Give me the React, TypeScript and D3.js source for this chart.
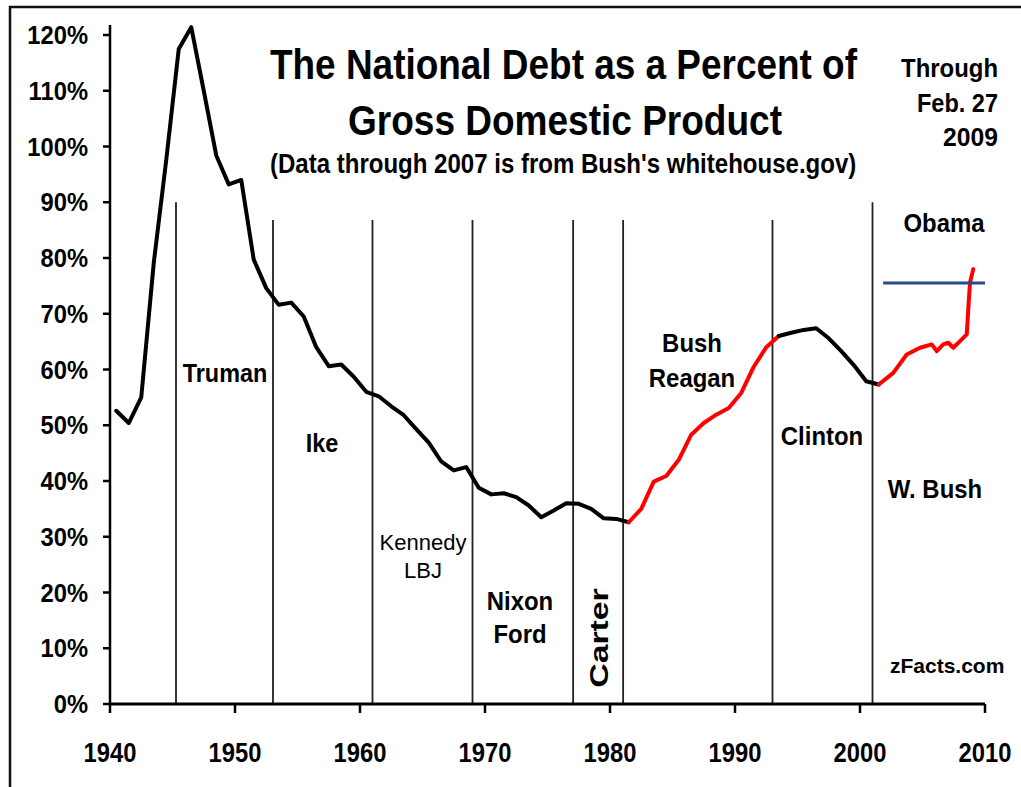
import React from "react";
import * as d3 from "d3";

// ---------- DATA ----------
const years: number[] = [
  1940, 1941, 1942, 1943, 1944, 1945, 1946, 1947, 1948, 1949,
  1950, 1951, 1952, 1953, 1954, 1955, 1956, 1957, 1958, 1959,
  1960, 1961, 1962, 1963, 1964, 1965, 1966, 1967, 1968, 1969,
  1970, 1971, 1972, 1973, 1974, 1975, 1976, 1977, 1978, 1979,
  1980, 1981, 1982, 1983, 1984, 1985, 1986, 1987, 1988, 1989,
  1990, 1991, 1992, 1993, 1994, 1995, 1996, 1997, 1998, 1999,
  2000, 2001,
];
const debtPct: number[] = [
  52.6, 50.4, 55.0, 79.1, 97.6, 117.5, 121.4, 110.0, 98.4, 93.2,
  94.0, 79.7, 74.6, 71.6, 72.0, 69.5, 64.0, 60.6, 60.9, 58.7,
  56.0, 55.2, 53.4, 51.8, 49.3, 46.9, 43.5, 41.9, 42.5, 38.8,
  37.6, 37.8, 37.1, 35.6, 33.5, 34.7, 36.0, 35.9, 35.0, 33.3,
  33.2, 32.6, 35.0, 39.9, 40.9, 43.8, 48.3, 50.4, 51.9, 53.1,
  55.8, 60.5, 64.0, 66.0, 66.6, 67.1, 67.4, 65.6, 63.3, 60.8,
  57.9, 57.3,
];
// finer-grained recent readings (decimal years)
const recentYears: number[] = [
  2002.16, 2003.24, 2004.3, 2005.24, 2005.64, 2006.16, 2006.56, 2006.96,
  2007.5, 2008.04, 2008.16, 2008.3, 2008.56,
];
const recentPct: number[] = [
  59.4, 62.7, 63.9, 64.5, 63.3, 64.5, 64.8, 63.9, 65.1, 66.3, 70.8, 75.6, 78.0,
];
// Republican (red) spans: Reagan/Bush and W. Bush
const redSpans: [number, number][] = [
  [1981, 1993],
  [2001, 2010],
];
// Start of each presidency (vertical dividers)
const presidentStarts: number[] = [1945.28, 1953.04, 1961.0, 1969.0, 1977.05, 1981.05, 1993.0, 2001.0];
const presidentNames: string[][] = [
  ["Truman"], ["Ike"], ["Kennedy", "LBJ"], ["Nixon", "Ford"], ["Carter"],
  ["Bush", "Reagan"], ["Clinton"], ["W. Bush"], ["Obama"],
];
const refLineValue = 75.5;
const refLineYears: [number, number] = [2001.85, 2010];
const yTicks: number[] = [0, 10, 20, 30, 40, 50, 60, 70, 80, 90, 100, 110, 120];
const xTicks: number[] = [1940, 1950, 1960, 1970, 1980, 1990, 2000, 2010];
const titleLines: string[] = ["The National Debt as a Percent of", "Gross Domestic Product"];
const subtitle = "(Data through 2007 is from Bush's whitehouse.gov)";
const asOfLines: string[] = ["Through", "Feb. 27", "2009"];
const sourceNote = "zFacts.com";

// ---------- LAYOUT ----------
const W = 1021;
const H = 787;
const MID = 0.5; // annual values plotted at mid-year
const FONT = "'Liberation Sans', Arial, Helvetica, sans-serif";

const x = d3.scaleLinear().domain([1940, 2010]).range([110, 985]);
const y = d3.scaleLinear().domain([0, 120]).range([704, 35]);

type Pt = [number, number];

function T(props: {
  x: number; y: number; size: number; sx?: number; anchor?: string;
  weight?: string; rot?: number; children: React.ReactNode;
}) {
  const { sx = 1, anchor = "middle", weight = "bold", rot = 0 } = props;
  return (
    <text
      transform={`translate(${props.x},${props.y}) rotate(${rot}) scale(${sx},1)`}
      textAnchor={anchor}
      fontSize={props.size}
      fontWeight={weight}
      fontFamily={FONT}
      fill="#000"
    >
      {props.children}
    </text>
  );
}

export default function App() {
  const annual: Pt[] = years.map((yr, i) => [yr, debtPct[i]]);
  const recent: Pt[] = recentYears.map((yr, i) => [yr, recentPct[i]]);
  const all: Pt[] = [...annual, ...recent];

  const line = d3
    .line<Pt>()
    .x((d) => x(d[0] + MID))
    .y((d) => y(d[1]));

  const isRed = (yr: number) => redSpans.some(([a, b]) => yr >= a && yr < b);
  const segments: { red: boolean; pts: Pt[] }[] = [];
  for (let i = 0; i < all.length - 1; i++) {
    const red = isRed(all[i][0]);
    const last = segments[segments.length - 1];
    if (last && last.red === red) last.pts.push(all[i + 1]);
    else segments.push({ red, pts: [all[i], all[i + 1]] });
  }

  const dividerTop = (i: number) => (i === 0 || i === presidentStarts.length - 1 ? 90 : 86.8);

  const labelPos: { x: number; ys: number[]; size: number; weight: string; sx: number; rot?: number }[] = [
    { x: 225, ys: [382], size: 26, weight: "bold", sx: 0.9 },
    { x: 322, ys: [452], size: 26, weight: "bold", sx: 0.9 },
    { x: 423, ys: [550, 578], size: 22, weight: "normal", sx: 1 },
    { x: 520, ys: [610, 643], size: 26, weight: "bold", sx: 0.92 },
    { x: 608, ys: [638], size: 26, weight: "bold", sx: 1.3, rot: -90 },
    { x: 692, ys: [352, 387], size: 26, weight: "bold", sx: 0.92 },
    { x: 822, ys: [445], size: 26, weight: "bold", sx: 0.92 },
    { x: 935, ys: [498], size: 26, weight: "bold", sx: 0.92 },
    { x: 944, ys: [232], size: 26, weight: "bold", sx: 0.92 },
  ];

  const titlePos = [
    { x: 270, y: 78.5, size: 43, sx: 0.859 },
    { x: 348, y: 135, size: 43, sx: 0.861 },
  ];
  const asOfPos = [
    { y: 77, sx: 0.92 },
    { y: 112, sx: 0.905 },
    { y: 146, sx: 0.95 },
  ];

  return (
    <svg
      width={W}
      height={H}
      style={{ position: "absolute", left: 0, top: 0, background: "#fff" }}
    >
      <rect x={0} y={0} width={W} height={H} fill="#fff" />
      {/* outer frame (left & top visible) */}
      <rect x={10} y={7} width={W + 40} height={H + 40} fill="none" stroke="#111" strokeWidth={2.5} />

      {/* president dividers */}
      {presidentStarts.map((yr, i) => (
        <line
          key={"d" + i}
          x1={x(yr)}
          x2={x(yr)}
          y1={y(dividerTop(i))}
          y2={y(0)}
          stroke="#222"
          strokeWidth={1.8}
        />
      ))}

      {/* axes */}
      <line x1={x(1940)} x2={x(1940)} y1={y(121.8)} y2={y(0)} stroke="#000" strokeWidth={2.5} />
      <line x1={x(1940)} x2={x(2010)} y1={y(0)} y2={y(0)} stroke="#000" strokeWidth={3} />
      {yTicks.map((t) => (
        <g key={"yt" + t}>
          <line x1={x(1940) - 7} x2={x(1940)} y1={y(t)} y2={y(t)} stroke="#000" strokeWidth={2.5} />
          <T x={88} y={y(t) + 9} size={25} sx={0.95} anchor="end">
            {t}%
          </T>
        </g>
      ))}
      {xTicks.map((t) => (
        <g key={"xt" + t}>
          <line x1={x(t)} x2={x(t)} y1={y(0)} y2={y(0) + 9} stroke="#000" strokeWidth={2.5} />
          <T x={x(t)} y={762} size={27} sx={0.88}>
            {t}
          </T>
        </g>
      ))}

      {/* debt line */}
      {segments.map((s, i) => (
        <path
          key={"s" + i}
          d={line(s.pts) || ""}
          fill="none"
          stroke={s.red ? "#ff0000" : "#000"}
          strokeWidth={4}
          strokeLinejoin="round"
          strokeLinecap="round"
        />
      ))}

      {/* reference line */}
      <line
        x1={x(refLineYears[0])}
        x2={x(refLineYears[1])}
        y1={y(refLineValue)}
        y2={y(refLineValue)}
        stroke="#2a4a8c"
        strokeWidth={3}
      />

      {/* president labels */}
      {presidentNames.map((names, i) => {
        const p = labelPos[i];
        return names.map((n, j) => (
          <T key={n} x={p.x} y={p.ys[j]} size={p.size} weight={p.weight} sx={p.sx} rot={p.rot || 0}>
            {n}
          </T>
        ));
      })}

      {/* titles */}
      {titleLines.map((t, i) => (
        <T key={t} x={titlePos[i].x} y={titlePos[i].y} size={titlePos[i].size} sx={titlePos[i].sx} anchor="start">
          {t}
        </T>
      ))}
      <T x={270} y={173} size={27} sx={0.89} anchor="start">
        {subtitle}
      </T>

      {asOfLines.map((t, i) => (
        <T key={t} x={998} y={asOfPos[i].y} size={26} sx={asOfPos[i].sx} anchor="end">
          {t}
        </T>
      ))}

      <T x={890} y={673} size={21} anchor="start" sx={1}>
        {sourceNote}
      </T>
    </svg>
  );
}
